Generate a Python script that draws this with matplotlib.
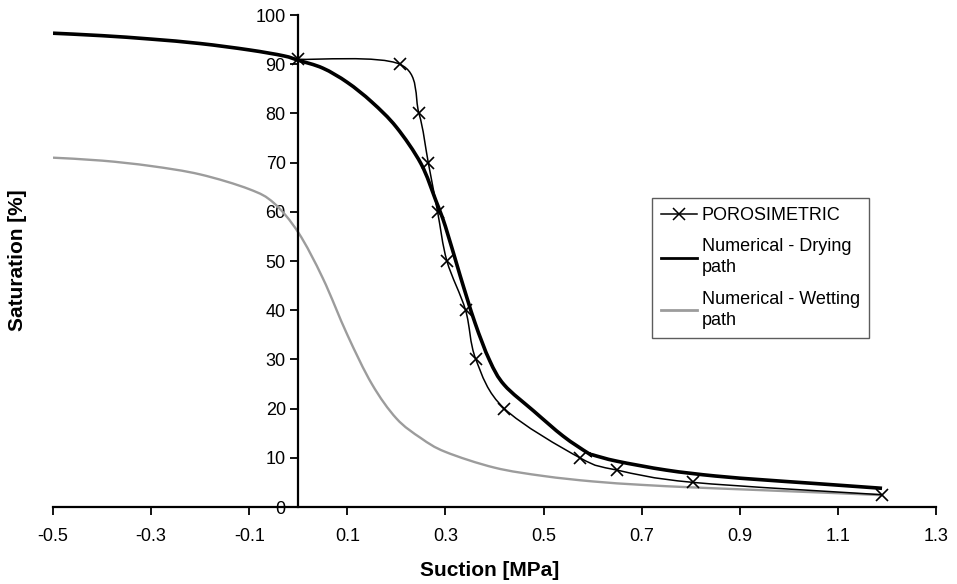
import matplotlib
matplotlib.use("Agg")
import matplotlib.pyplot as plt
from matplotlib.path import Path
from matplotlib.patches import PathPatch
from matplotlib.lines import Line2D
import numpy as np

plt.rcParams['font.family'] = ['Liberation Sans', 'DejaVu Sans']

# Porosimetric data (markers)
poro_x = [0.0, 0.207, 0.246, 0.265, 0.284, 0.303, 0.341, 0.362, 0.42, 0.574, 0.650, 0.805, 1.189]
poro_y = [91, 90, 80, 70, 60, 50, 40, 30, 20, 10, 7.5, 5, 2.5]

# Numerical - Drying path
dry_x = [-0.5, -0.4, -0.3, -0.2, -0.1, -0.03, 0.0, 0.05, 0.1, 0.15, 0.2, 0.25, 0.28, 0.3,
         0.33, 0.36, 0.39, 0.42, 0.48, 0.54, 0.59, 0.6, 0.65, 0.75, 0.85, 0.95, 1.05, 1.19]
dry_y = [96.3, 95.8, 95.1, 94.2, 92.9, 91.7, 90.8, 89.2, 86.3, 82.3, 77.2, 69.8, 62.4, 57,
         47, 37.5, 29.8, 24.8, 19.5, 14.4, 11.0, 10.6, 9.3, 7.5, 6.3, 5.5, 4.8, 3.8]

# Numerical - Wetting path
wet_x = [-0.5, -0.4, -0.3, -0.2, -0.1, -0.05, 0.0, 0.05, 0.1, 0.15, 0.2, 0.25, 0.3,
         0.4, 0.5, 0.6, 0.7, 0.8, 0.9, 1.0, 1.1, 1.19]
wet_y = [71, 70.4, 69.3, 67.6, 64.6, 61.8, 55.8, 46.5, 35, 25, 18, 14, 11.2,
         8, 6.3, 5.2, 4.5, 4, 3.6, 3.2, 2.8, 2.4]

x_ticks = [-0.5, -0.3, -0.1, 0.1, 0.3, 0.5, 0.7, 0.9, 1.1, 1.3]
x_tick_labels = ["-0.5", "-0.3", "-0.1", "0.1", "0.3", "0.5", "0.7", "0.9", "1.1", "1.3"]
y_ticks = [0, 10, 20, 30, 40, 50, 60, 70, 80, 90, 100]

fig = plt.figure(figsize=(9.57, 5.84), dpi=100)
ax = fig.add_axes([53/957, 1 - 507/584, (936 - 53)/957, (507 - 15)/584])
ax.set_xlim(-0.5, 1.3)
ax.set_ylim(0, 100)


def smooth_path(xs, ys):
    pts = np.column_stack([xs, ys]).astype(float)
    verts = [pts[0]]
    codes = [Path.MOVETO]
    n = len(pts)
    for i in range(n - 1):
        p0 = pts[i - 1] if i > 0 else pts[i]
        p1 = pts[i]
        p2 = pts[i + 1]
        p3 = pts[i + 2] if i + 2 < n else pts[i + 1]
        c1 = p1 + (p2 - p0) / 6.0
        c2 = p2 - (p3 - p1) / 6.0
        verts += [c1, c2, p2]
        codes += [Path.CURVE4] * 3
    return Path(verts, codes)


# Wetting (gray)
ax.add_patch(PathPatch(smooth_path(wet_x, wet_y), fill=False, edgecolor='#9c9c9c',
                       lw=1.7, zorder=2))
# Drying (thick black)
ax.add_patch(PathPatch(smooth_path(dry_x, dry_y), fill=False, edgecolor='black',
                       lw=2.6, zorder=3))
# Porosimetric (smoothed line + x markers)
ax.add_patch(PathPatch(smooth_path(poro_x, poro_y), fill=False, edgecolor='black',
                       lw=1.1, zorder=4))
ax.plot(poro_x, poro_y, linestyle='none', marker='x', color='black', ms=9, mew=1.2, zorder=5)

# Axes styling
for s in ['top', 'right']:
    ax.spines[s].set_visible(False)
ax.spines['left'].set_position(('data', 0))
ax.spines['left'].set_linewidth(1.6)
ax.spines['bottom'].set_linewidth(1.6)
ax.set_xticks(x_ticks)
ax.set_xticklabels(x_tick_labels)
ax.set_yticks(y_ticks)
ax.tick_params(axis='both', direction='out', length=6, width=1.3, labelsize=13, colors='black')
ax.tick_params(axis='x', pad=9)
ax.tick_params(axis='y', pad=3)

fig.text(490/957, 1 - 570/584, "Suction [MPa]", ha='center', va='center',
         fontsize=15, fontweight='bold')
fig.text(18/957, 1 - 260/584, "Saturation [%]", ha='center', va='center',
         fontsize=15, fontweight='bold', rotation=90)

handles = [
    Line2D([], [], color='black', lw=1.1, marker='x', ms=8, mew=1.1),
    Line2D([], [], color='black', lw=2.0),
    Line2D([], [], color='#9c9c9c', lw=2.0),
]
labels = ["POROSIMETRIC", "Numerical - Drying\npath", "Numerical - Wetting\npath"]
leg = ax.legend(handles, labels, loc='upper left',
                bbox_to_anchor=(652/957, 1 - 198/584), bbox_transform=fig.transFigure,
                fontsize=13, frameon=True, fancybox=False, handlelength=2.0,
                handletextpad=0.25, borderpad=0.5, labelspacing=0.8, borderaxespad=0)
for t in leg.get_texts():
    t.set_linespacing(1.3)
leg.get_frame().set_edgecolor('#333333')
leg.get_frame().set_linewidth(1.0)

fig.savefig("out.png", dpi=100)
